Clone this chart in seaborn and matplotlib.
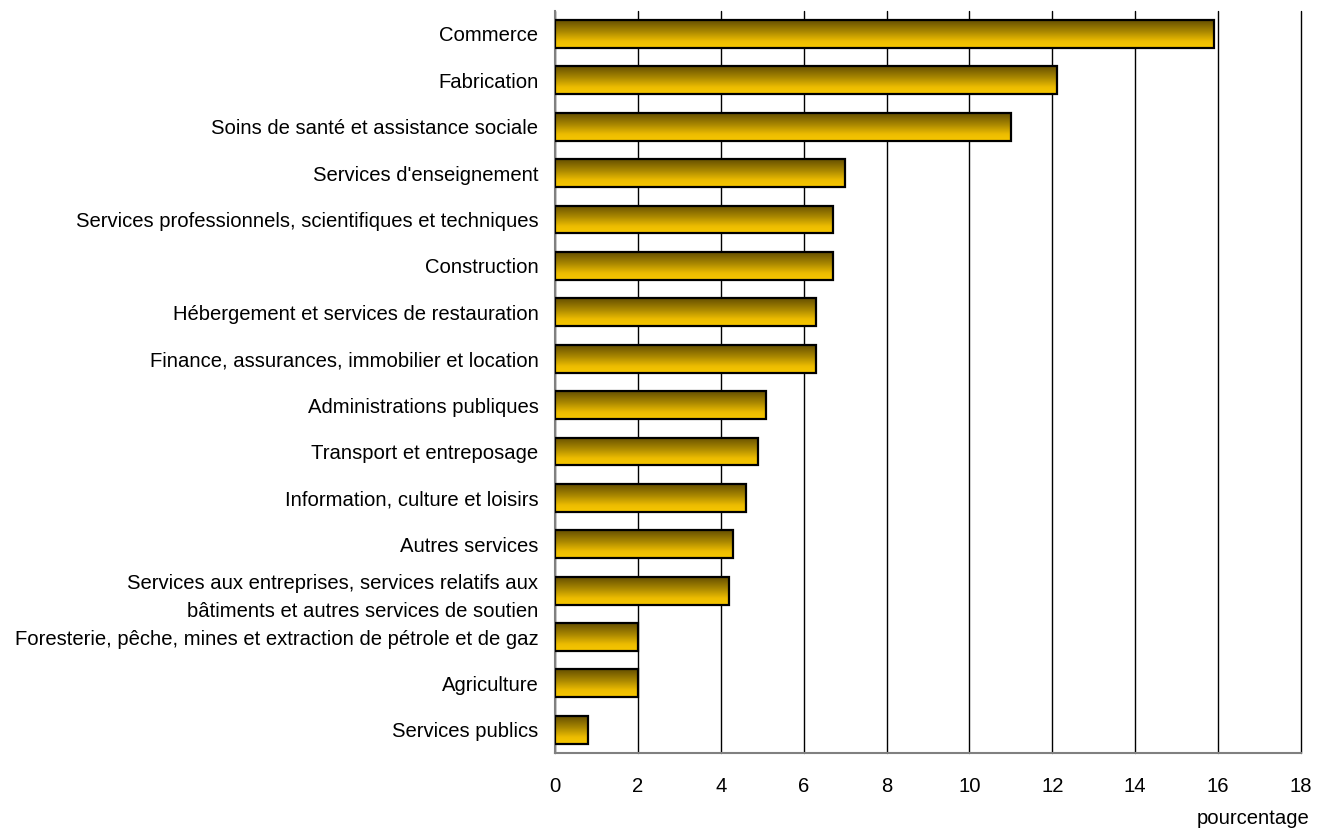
import numpy as np
import pandas as pd
import matplotlib
matplotlib.use("Agg")
import matplotlib.pyplot as plt
from matplotlib.colors import LinearSegmentedColormap
import seaborn as sns

categories = [
    "Commerce",
    "Fabrication",
    "Soins de santé et assistance sociale",
    "Services d'enseignement",
    "Services professionnels, scientifiques et techniques",
    "Construction",
    "Hébergement et services de restauration",
    "Finance, assurances, immobilier et location",
    "Administrations publiques",
    "Transport et entreposage",
    "Information, culture et loisirs",
    "Autres services",
    "Services aux entreprises, services relatifs aux\nbâtiments et autres services de soutien",
    "Foresterie, pêche, mines et extraction de pétrole et de gaz",
    "Agriculture",
    "Services publics",
]
values = [15.9, 12.1, 11.0, 7.0, 6.7, 6.7, 6.3, 6.3, 5.1, 4.9, 4.6, 4.3, 4.2, 2.0, 2.0, 0.8]
xticks = [0, 2, 4, 6, 8, 10, 12, 14, 16, 18]
xlabel = "pourcentage"

sns.set_theme(style="white")
plt.rcParams["font.family"] = ["Liberation Sans", "DejaVu Sans"]

df = pd.DataFrame({"cat": categories, "val": values})

fig = plt.figure(figsize=(13.25, 8.31), dpi=100)
ax = fig.add_axes([0.4189, 0.0939, 0.5630, 0.8931])

sns.barplot(data=df, x="val", y="cat", orient="h", ax=ax, width=0.6,
            color="#f5c400", edgecolor="black", linewidth=1.6, zorder=3)

cmap = LinearSegmentedColormap.from_list(
    "gold", [(0.0, "#665000"), (0.4, "#a88600"), (0.75, "#ebbb00"), (1.0, "#f8c800")])
grad = np.linspace(0, 1, 64).reshape(-1, 1)
for p in ax.patches:
    x0, y0 = p.get_x(), p.get_y()
    w, h = p.get_width(), p.get_height()
    im = ax.imshow(grad, cmap=cmap, aspect="auto",
                   extent=[x0, x0 + w, y0 + h, y0], origin="upper", zorder=3.5,
                   interpolation="bilinear")
    im.set_clip_path(p)
    p.set_facecolor("none")
    p.set_zorder(4)

ax.set_xlim(0, 18)
ax.set_ylim(len(categories) - 0.5, -0.5)
ax.set_xticks(xticks)
ax.set_xticklabels([str(t) for t in xticks])
ax.xaxis.grid(True, color="black", linewidth=1.0, zorder=0)
for gl in ax.xaxis.get_gridlines():
    gl.set_clip_on(False)
ax.yaxis.grid(False)
ax.set_axisbelow(True)
ax.tick_params(axis="both", length=0, labelsize=14.6, colors="black")
ax.tick_params(axis="x", pad=17)
ax.tick_params(axis="y", pad=12)
for lbl in ax.get_yticklabels():
    lbl.set_linespacing(1.65)
ax.set_ylabel("")
ax.set_xlabel(xlabel, fontsize=14.6, color="black")
ax.xaxis.set_label_coords(0.936, -0.076)

for s in ["top", "right"]:
    ax.spines[s].set_visible(False)
for s in ["left", "bottom"]:
    ax.spines[s].set_color("#808080")
    ax.spines[s].set_linewidth(1.5)

fig.savefig("out.png", dpi=100, facecolor="white")
